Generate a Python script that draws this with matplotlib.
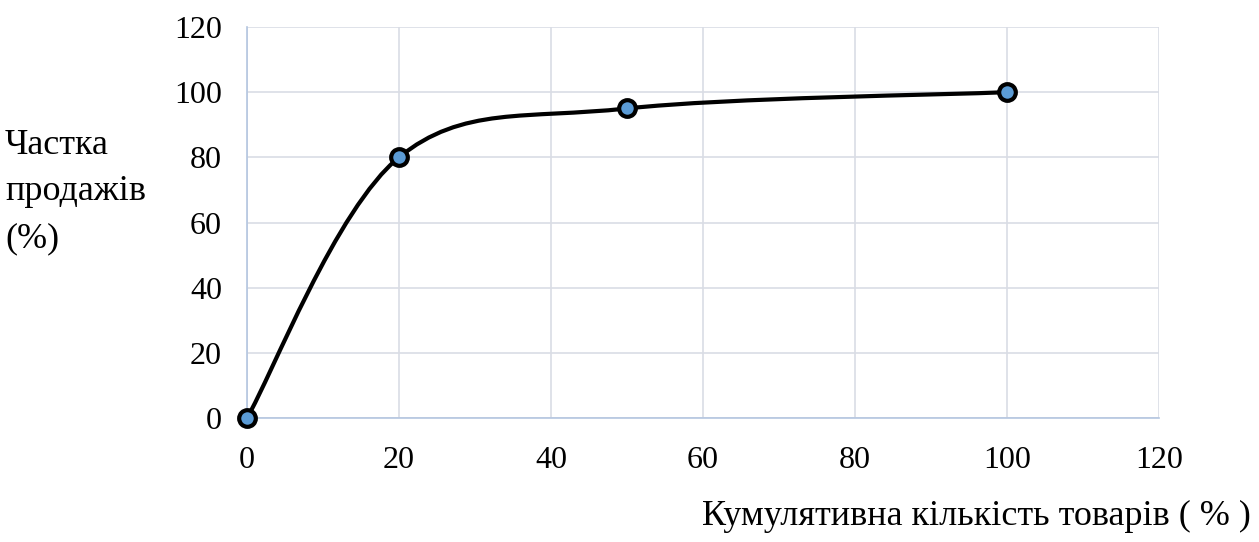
import matplotlib
matplotlib.use('Agg')
from matplotlib import pyplot as plt
from matplotlib.path import Path
from matplotlib.patches import PathPatch
import numpy as np

x_vals = [0, 20, 50, 100]
y_vals = [0, 80, 95, 100]
x_ticks = [0, 20, 40, 60, 80, 100, 120]
y_ticks = [0, 20, 40, 60, 80, 100, 120]
x_label = 'Кумулятивна кількість товарів ( % )'
y_label = 'Частка\nпродажів\n(%)'

plt.rcParams['font.family'] = ['Liberation Serif', 'DejaVu Serif']


def smooth_path(xs, ys):
    # excel-like smoothed line: bezier segments with catmull-rom control points
    p = np.column_stack([xs, ys]).astype(float)
    ext = np.vstack([p[0], p, p[-1]])
    verts = [p[0]]
    codes = [Path.MOVETO]
    for i in range(len(p) - 1):
        p0, p1, p2, p3 = ext[i], ext[i + 1], ext[i + 2], ext[i + 3]
        c1 = p1 + (p2 - p0) / 6
        c2 = p2 - (p3 - p1) / 6
        verts += [c1, c2, p2]
        codes += [Path.CURVE4] * 3
    return Path(verts, codes)


fig = plt.figure(figsize=(12.59, 5.42), dpi=100)
ax = fig.add_axes([247 / 1259, 1 - 418 / 542, (1159 - 247) / 1259, (418 - 27) / 542])

ax.set_xlim(0, 120)
ax.set_ylim(0, 120)
ax.set_xticks(x_ticks)
ax.set_yticks(y_ticks)
ax.grid(True, color='#d9dde5', lw=1.2)
ax.set_axisbelow(True)
for s in ['top', 'right']:
    ax.spines[s].set_visible(False)
for s in ['left', 'bottom']:
    ax.spines[s].set_color('#b4c6e0')
    ax.spines[s].set_linewidth(1.2)
ax.tick_params(length=0, labelsize=23)
ax.tick_params(axis='x', pad=20)
ax.tick_params(axis='y', pad=18)

ax.add_patch(PathPatch(smooth_path(x_vals, y_vals), fill=False, ec='black', lw=3,
                       zorder=3, clip_on=False))
ax.plot(x_vals, y_vals, ls='none', marker='o', ms=12, mfc='#5b9bd5', mec='black',
        mew=3, zorder=4, clip_on=False)

fig.text(0.004, 1 - 192 / 542, y_label, fontsize=26, va='center', ha='left',
         linespacing=1.55)
fig.text(1251 / 1259, 1 - 516 / 542, x_label, fontsize=26, va='center', ha='right')

fig.savefig('out.png', dpi=100)
